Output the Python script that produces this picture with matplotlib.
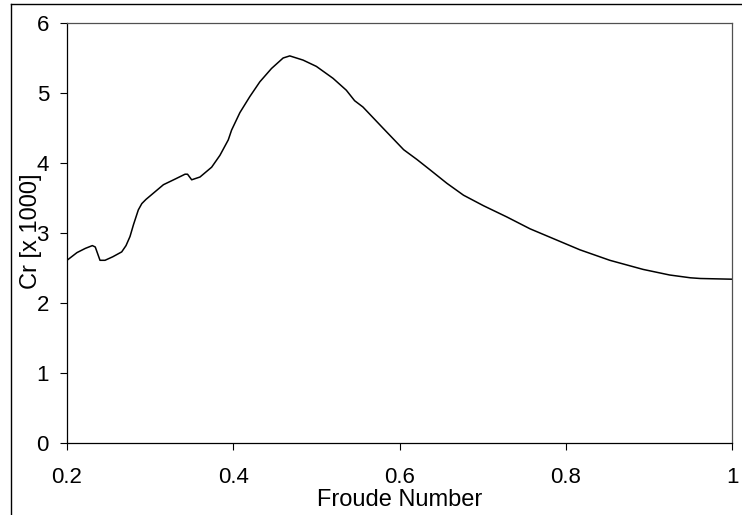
import matplotlib
matplotlib.use("Agg")
import matplotlib.pyplot as plt
from matplotlib.lines import Line2D

# Froude number vs residuary resistance coefficient
froude = [0.200, 0.212, 0.222, 0.2305, 0.234, 0.2397, 0.2457, 0.255, 0.2658,
          0.271, 0.2758, 0.280, 0.2858, 0.290, 0.295, 0.300, 0.316, 0.330,
          0.342, 0.345, 0.350, 0.360, 0.374, 0.384, 0.394, 0.398, 0.408,
          0.420, 0.432, 0.446, 0.460, 0.468, 0.484, 0.500, 0.520, 0.536,
          0.546, 0.556, 0.580, 0.605, 0.621, 0.637, 0.657, 0.677, 0.701,
          0.729, 0.757, 0.793, 0.817, 0.853, 0.893, 0.925, 0.950, 0.962,
          1.000]
cr = [2.61, 2.72, 2.78, 2.82, 2.80, 2.61, 2.61, 2.66, 2.73,
      2.82, 2.95, 3.12, 3.33, 3.42, 3.48, 3.53, 3.69, 3.77,
      3.84, 3.84, 3.76, 3.80, 3.94, 4.11, 4.33, 4.47, 4.72,
      4.95, 5.16, 5.35, 5.50, 5.53, 5.47, 5.38, 5.21, 5.04,
      4.89, 4.80, 4.50, 4.19, 4.05, 3.90, 3.71, 3.54, 3.39,
      3.23, 3.06, 2.88, 2.76, 2.61, 2.48, 2.40, 2.36, 2.35,
      2.34]

x_ticks = [0.2, 0.4, 0.6, 0.8, 1.0]
x_tick_labels = ["0.2", "0.4", "0.6", "0.8", "1"]
y_ticks = [0, 1, 2, 3, 4, 5, 6]

W, H = 742, 515

plt.rcParams["font.family"] = ["Liberation Sans", "DejaVu Sans"]

fig = plt.figure(figsize=(W / 100, H / 100), dpi=100)
ax = fig.add_axes([67 / W, (H - 443) / H, (732 - 67) / W, (443 - 23) / H])

ax.plot(froude, cr, color="black", linewidth=1.1)

ax.set_xlim(0.2, 1.0)
ax.set_ylim(0, 6)
ax.set_xticks(x_ticks)
ax.set_xticklabels(x_tick_labels)
ax.set_yticks(y_ticks)
ax.tick_params(direction="out", length=5, width=0.8, labelsize=16,
               colors="black")
ax.tick_params(axis="x", pad=12)
ax.tick_params(axis="y", pad=8)

for side in ["left", "bottom"]:
    ax.spines[side].set_color("black")
    ax.spines[side].set_linewidth(0.9)
for side in ["top", "right"]:
    ax.spines[side].set_color("#505050")
    ax.spines[side].set_linewidth(0.9)

fig.text(399.5 / W, 1 - 500 / H, "Froude Number", fontsize=17,
         ha="center", va="center")
fig.text(31 / W, 1 - 231 / H, "Cr [x 1000]", fontsize=17, rotation=90,
         ha="center", va="center")

# outer chart border (left and top edges visible)
fig.add_artist(Line2D([11 / W, 11 / W], [0, 1 - 4 / H], color="black",
                      linewidth=1.0, transform=fig.transFigure))
fig.add_artist(Line2D([11 / W, 741 / W], [1 - 4 / H, 1 - 4 / H], color="black",
                      linewidth=1.0, transform=fig.transFigure))

fig.savefig("out.png", dpi=100)
